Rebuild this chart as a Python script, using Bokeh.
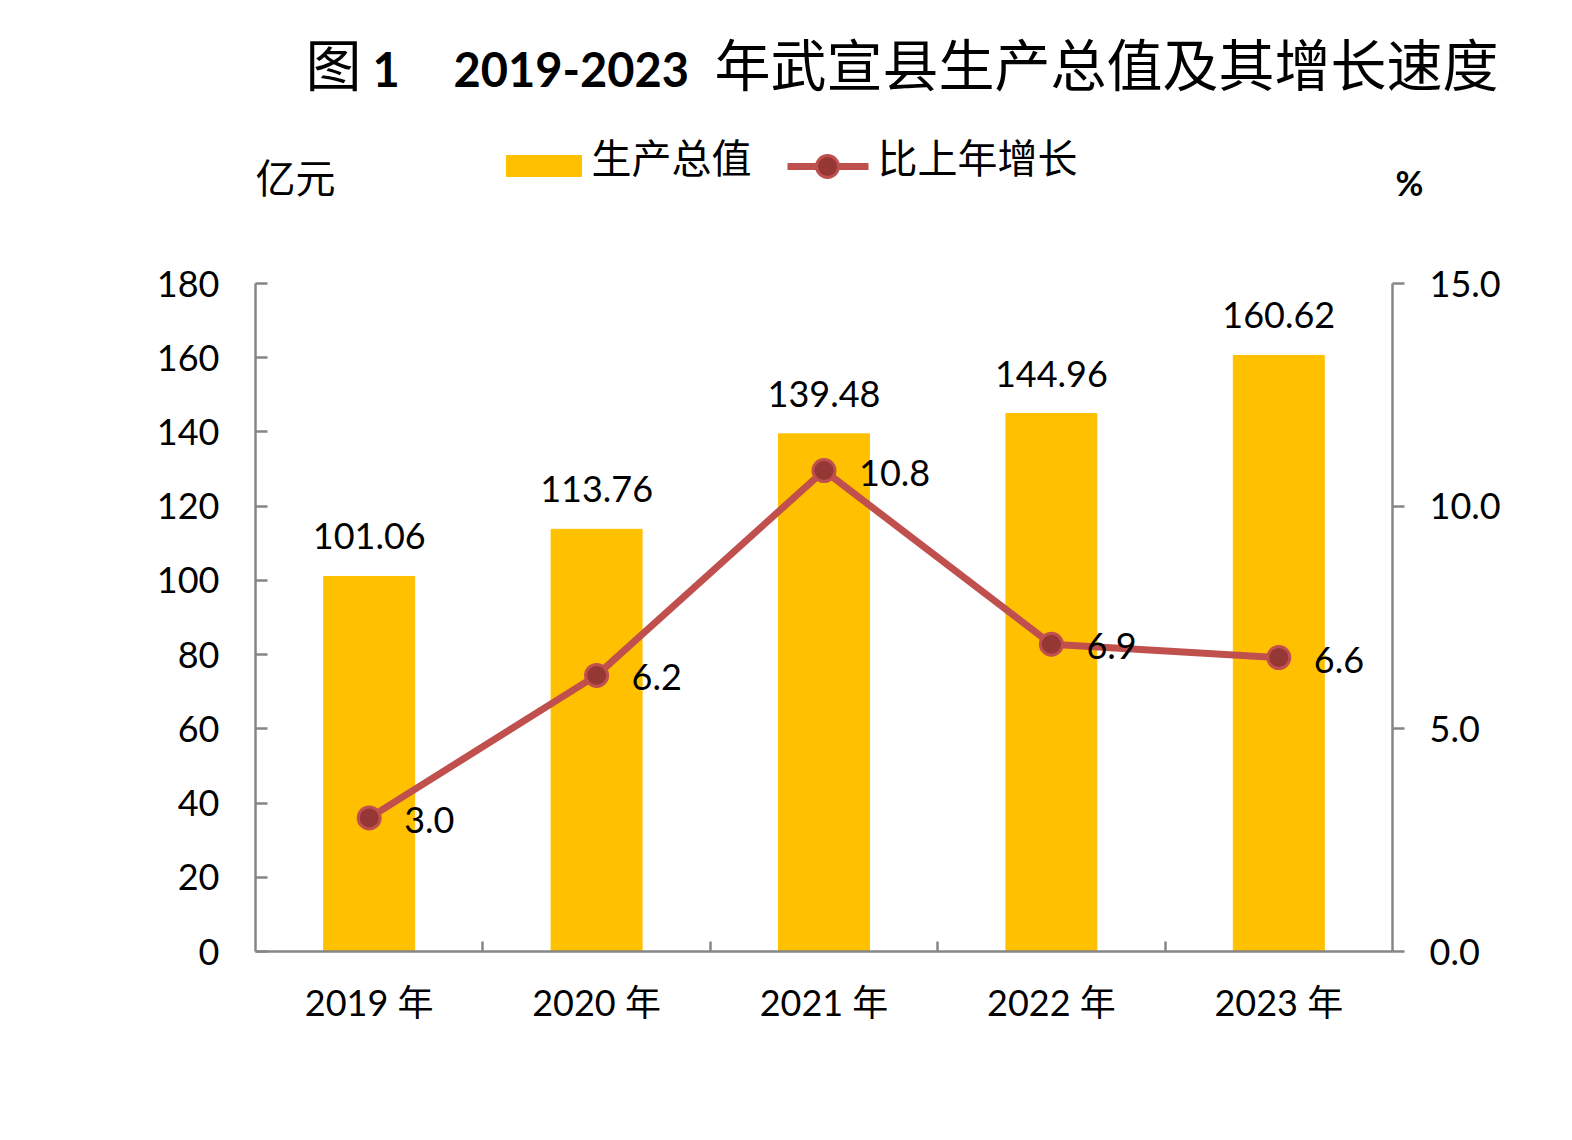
from bokeh.plotting import figure
from bokeh.layouts import column
from bokeh.models import (ColumnDataSource, LabelSet, LinearAxis, Range1d,
                          FixedTicker, NumeralTickFormatter)
from bokeh.core.properties import value
from bokeh.embed import file_html
from bokeh.resources import INLINE

# 数据
years = [1, 2, 3, 4, 5]
year_labels = ["2019 年", "2020 年", "2021 年", "2022 年", "2023 年"]
gdp = [101.06, 113.76, 139.48, 144.96, 160.62]
growth = [3.0, 6.2, 10.8, 6.9, 6.6]
gdp_ticks = [0, 20, 40, 60, 80, 100, 120, 140, 160, 180]
pct_ticks = [0, 5, 10, 15]

W = 1556
HEAD_H = 240
MAIN_H = 1124 - HEAD_H
NUM_FONT = "Lato, Noto Sans CJK SC"
CJK_FONT = "Noto Sans CJK SC"
BAR = "#FFC000"
LINE = "#C0504D"
DOT = "#953735"
AXIS = "#868686"

# ---- 标题、图例、单位 (顶部画布, 坐标即像素) ----
head = figure(width=W, height=HEAD_H, x_range=Range1d(0, W), y_range=Range1d(0, HEAD_H),
              output_backend="svg", toolbar_location=None,
              x_axis_type=None, y_axis_type=None,
              min_border=0, min_border_left=0, min_border_right=0,
              min_border_top=0, min_border_bottom=0)
try:
    head.title = None
except Exception:
    head.title.visible = False
head.outline_line_color = None
head.xgrid.grid_line_color = None
head.ygrid.grid_line_color = None

def head_text(txt, x, y, font, size, style="normal"):
    # y 为页面像素 (自上而下)
    head.text(x=[x], y=[HEAD_H - y], text=[txt], text_font=value(font),
              text_font_size=size, text_font_style=style, text_color="black",
              text_align="left", text_baseline="alphabetic")

head_text("图", 305, 61, CJK_FONT, "56px")
head_text("1", 372, 69, "Lato", "47px", style="bold")
head_text("2019-2023", 453, 69, "Lato", "47px", style="bold")
head_text("年武宣县生产总值及其增长速度", 714, 61, CJK_FONT, "56px")
head_text("亿元", 255, 175, CJK_FONT, "40px")
head_text("%", 1395, 182, "Lato", "34px", style="bold")

# 图例
head.quad(left=[506], right=[581], top=[HEAD_H - 155], bottom=[HEAD_H - 176], color=BAR)
head_text("生产总值", 591, 155, CJK_FONT, "40px")
head.line(x=[787, 868], y=[HEAD_H - 166, HEAD_H - 166], line_color=LINE, line_width=7)
head.scatter(x=[827], y=[HEAD_H - 166], size=22, fill_color=DOT, line_color=LINE, line_width=3)
head_text("比上年增长", 877, 155, CJK_FONT, "40px")

# ---- 主图 ----
src = ColumnDataSource(dict(
    x=years, gdp=gdp, growth=growth,
    gdp_txt=["%.2f" % v for v in gdp],
    growth_txt=["%.1f" % v for v in growth],
))

p = figure(width=W, height=MAIN_H, x_range=Range1d(0.5, 5.5), y_range=Range1d(0, 180),
           output_backend="svg", toolbar_location=None,
           min_border_left=255, min_border_right=W - 1392,
           min_border_top=283 - HEAD_H, min_border_bottom=MAIN_H - (951 - HEAD_H))
p.extra_y_ranges = {"pct": Range1d(0, 15)}
p.outline_line_color = None
p.xgrid.grid_line_color = None
p.ygrid.grid_line_color = None

for fig in (head, p):
    if "frame_align" in fig.properties():
        fig.frame_align = False

bars = p.vbar(x="x", top="gdp", width=0.4, source=src, color=BAR)
line = p.line(x="x", y="growth", source=src, y_range_name="pct",
              line_color=LINE, line_width=7)
dots = p.scatter(x="x", y="growth", source=src, y_range_name="pct", size=22,
                 fill_color=DOT, line_color=LINE, line_width=3)

# 数值标签
p.add_layout(LabelSet(x="x", y="gdp", text="gdp_txt", source=src,
                      text_align="center", text_baseline="alphabetic", y_offset=27,
                      text_font=value(NUM_FONT), text_font_size="36px", text_color="black"))
p.add_layout(LabelSet(x="x", y="growth", text="growth_txt", source=src, y_range_name="pct",
                      text_align="left", text_baseline="middle", x_offset=35, y_offset=-2,
                      text_font=value(NUM_FONT), text_font_size="36px", text_color="black"))

# 坐标轴
xa = p.xaxis[0]
xa.ticker = FixedTicker(ticks=years, minor_ticks=[1.5, 2.5, 3.5, 4.5])
xa.major_label_overrides = {y: l for y, l in zip(years, year_labels)}
xa.major_tick_line_color = None
xa.minor_tick_in = 10
xa.minor_tick_out = 0
xa.minor_tick_line_color = AXIS
xa.minor_tick_line_width = 2.5
xa.major_label_standoff = 22

ya = p.yaxis[0]
ya.ticker = FixedTicker(ticks=gdp_ticks)
ya.major_tick_in = 12
ya.major_tick_out = 0
ya.minor_tick_line_color = None
ya.major_label_standoff = 36

ra = LinearAxis(y_range_name="pct", ticker=FixedTicker(ticks=pct_ticks),
                formatter=NumeralTickFormatter(format="0.0"))
ra.major_tick_in = 0
ra.major_tick_out = 12
ra.minor_tick_line_color = None
ra.major_label_standoff = 25
p.add_layout(ra, "right")

for ax in (xa, ya, ra):
    ax.axis_line_color = AXIS
    ax.axis_line_width = 2.5
    ax.major_tick_line_width = 2.5
    if ax is not xa:
        ax.major_tick_line_color = AXIS
    ax.major_label_text_font = NUM_FONT
    ax.major_label_text_font_size = "36px"
    ax.major_label_text_color = "black"

layout = column(head, p, spacing=0)
open("out.html", "w").write(file_html(layout, INLINE))
